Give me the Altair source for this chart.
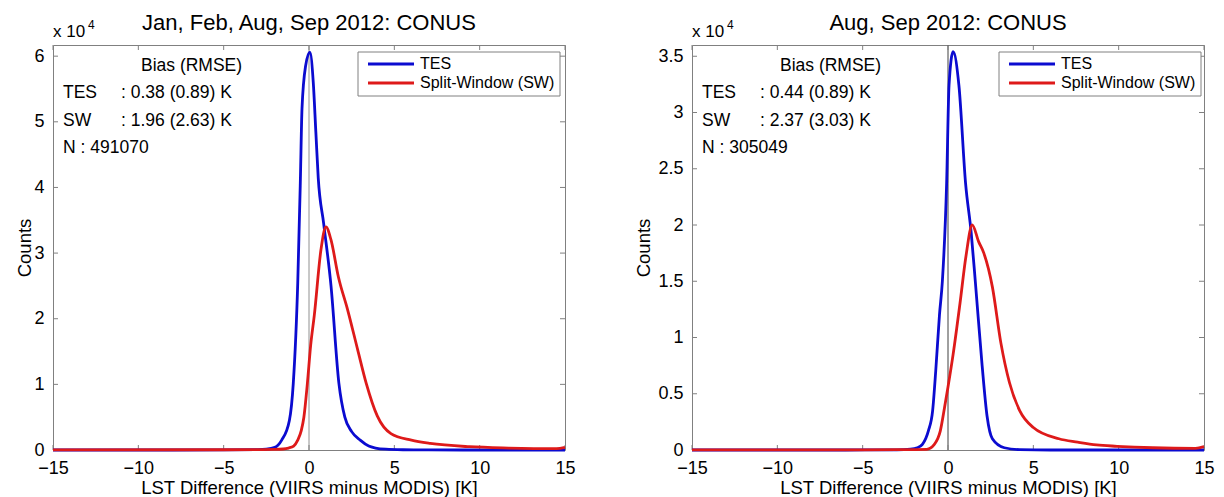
import altair as alt
import pandas as pd

# ---------------- data (counts in units of 10^4) ----------------
X_TICKS = [-15, -10, -5, 0, 5, 10, 15]
L_Y_TICKS = [0, 1, 2, 3, 4, 5, 6]
R_Y_TICKS = [0, 0.5, 1, 1.5, 2, 2.5, 3, 3.5]
SERIES = ["TES", "Split-Window (SW)"]
COLORS = ["#0b0bd0", "#de1a1a"]

TITLES = ["Jan, Feb, Aug, Sep 2012: CONUS", "Aug, Sep 2012: CONUS"]
X_TITLE = "LST Difference (VIIRS minus MODIS) [K]"
Y_TITLE = "Counts"
STAT_HEAD = "Bias (RMSE)"
L_STATS = [": 0.38 (0.89) K", ": 1.96 (2.63) K", "N : 491070"]
R_STATS = [": 0.44 (0.89) K", ": 2.37 (3.03) K", "N : 305049"]
STAT_NAMES = ["TES", "SW"]

# Left panel
L_TES_X = [-15, -8, -5, -3, -2.5, -2, -1.6, -1.15, -0.92, -0.66, -0.51, -0.41, -0.2,
           0.05, 0.25, 0.4, 0.54, 0.86, 1.29, 1.75, 2.1, 2.5, 3.0, 3.5, 3.9, 4.5, 5.5, 7, 9, 15]
L_TES_Y = [0, 0, 0.001, 0.005, 0.012, 0.04, 0.15, 0.45, 1.02, 2.54, 4.06, 5.2, 5.85,
           6.06, 5.6, 4.85, 4.15, 3.45, 2.5, 1.02, 0.5, 0.28, 0.15, 0.06, 0.03, 0.012, 0.004, 0.001, 0, 0]
L_SW_X = [-15, -5, -3, -2, -1.5, -1.2, -0.9, -0.66, -0.45, -0.3, -0.1, 0.1, 0.31, 0.7, 0.99,
          1.29, 1.72, 2.26, 2.85, 3.35, 4.0, 4.8, 6.0, 7.1, 9.4, 11.7, 14.5, 15]
L_SW_Y = [0.003, 0.004, 0.006, 0.008, 0.015, 0.03, 0.06, 0.15, 0.3, 0.5, 1.0, 1.6, 2.05, 3.05, 3.40,
          3.2, 2.64, 2.14, 1.53, 1.02, 0.52, 0.25, 0.15, 0.1, 0.05, 0.03, 0.02, 0.04]

# Right panel
R_TES_X = [-15, -6, -3, -2.2, -1.8, -1.5, -1.15, -0.9, -0.72, -0.5, -0.33, -0.08, 0.06,
           0.3, 0.64, 1.03, 1.36, 1.61, 2.0, 2.29, 2.6, 3.3, 4.2, 6, 15]
R_TES_Y = [0, 0, 0.002, 0.008, 0.02, 0.05, 0.17, 0.35, 0.7, 1.2, 1.5, 2.37, 3.24,
           3.54, 3.24, 2.37, 1.93, 1.48, 0.75, 0.3, 0.1, 0.02, 0.003, 0, 0]
R_SW_X = [-15, -5, -3, -1.25, -0.8, -0.45, -0.2, 0.0, 0.3, 0.7, 1.05, 1.42, 1.8, 2.1,
          2.6, 3.1, 3.6, 4.2, 5.0, 6.5, 7.6, 8.7, 9.9, 12, 14.5, 15]
R_SW_Y = [0.002, 0.002, 0.003, 0.006, 0.05, 0.17, 0.38, 0.56, 0.85, 1.3, 1.72, 2.0, 1.85, 1.75,
          1.45, 0.95, 0.6, 0.35, 0.2, 0.1, 0.07, 0.045, 0.033, 0.02, 0.015, 0.03]

# ---------------- style ----------------
W, H = 512, 405
FONT = "Liberation Sans"
FRAME = "#808080"


def panel(title, tes_x, tes_y, sw_x, sw_y, y_ticks, ymax, stats, zero_color,
          legend_left, y_title_x):
    xs = alt.Scale(domain=[-15, 15], nice=False, zero=False)
    ys = alt.Scale(domain=[0, ymax], nice=False, zero=True)
    x_axis = alt.Axis(values=X_TICKS, ticks=False, domain=False, grid=False,
                      labelPadding=9, title=X_TITLE, titlePadding=1,
                      labelOverlap=False, labelFlush=False,
                      labelFont=FONT, labelFontSize=18, labelColor="black",
                      titleFont=FONT, titleFontSize=18.5, titleColor="black",
                      titleFontWeight="normal")
    y_axis = alt.Axis(values=y_ticks, format="~g", ticks=False, domain=False, grid=False,
                      labelPadding=9, title=Y_TITLE, titleX=y_title_x, titleY=H / 2,
                      titleBaseline="middle", titleAlign="center", labelOverlap=False,
                      labelFont=FONT, labelFontSize=18, labelColor="black",
                      titleFont=FONT, titleFontSize=18.5, titleColor="black",
                      titleFontWeight="normal")
    X = lambda: alt.X("x:Q", scale=xs, axis=x_axis)
    Y = lambda: alt.Y("y:Q", scale=ys, axis=y_axis)

    tes = pd.DataFrame({"x": tes_x, "y": tes_y, "s": SERIES[0]})
    sw = pd.DataFrame({"x": sw_x, "y": sw_y, "s": SERIES[1]})
    xt = pd.DataFrame({"x": X_TICKS})
    yt = pd.DataFrame({"y": y_ticks})
    one = pd.DataFrame({"a": [0]})

    layers = []
    # zero line
    layers.append(alt.Chart(pd.DataFrame({"x": [0]})).mark_rule(color=zero_color, strokeWidth=1)
                  .encode(x=X()))
    # inward ticks
    layers.append(alt.Chart(xt).mark_rule(color=FRAME, strokeWidth=1)
                  .encode(x=X(), y=alt.value(H), y2=alt.value(H - 5)))
    layers.append(alt.Chart(xt).mark_rule(color=FRAME, strokeWidth=1)
                  .encode(x=X(), y=alt.value(0), y2=alt.value(5)))
    layers.append(alt.Chart(yt).mark_rule(color=FRAME, strokeWidth=1)
                  .encode(y=Y(), x=alt.value(0), x2=alt.value(5)))
    layers.append(alt.Chart(yt).mark_rule(color=FRAME, strokeWidth=1)
                  .encode(y=Y(), x=alt.value(W - 5), x2=alt.value(W)))
    # curves
    layers.append(alt.Chart(tes).mark_line(color=COLORS[0], strokeWidth=2.8, interpolate="monotone")
                  .encode(x=X(), y=Y()))
    layers.append(alt.Chart(sw).mark_line(color=COLORS[1], strokeWidth=2.8, interpolate="monotone")
                  .encode(x=X(), y=Y()))

    def txt(t, x, y, size=17.5, align="left", baseline="middle"):
        return (alt.Chart(pd.DataFrame({"t": [t]}))
                .mark_text(font=FONT, fontSize=size, align=align, baseline=baseline, color="black")
                .encode(text="t:N", x=alt.value(x), y=alt.value(y)))

    # stats text
    layers.append(txt(STAT_HEAD, 88, 21))
    layers.append(txt(STAT_NAMES[0], 10, 48))
    layers.append(txt(stats[0], 68, 48))
    layers.append(txt(STAT_NAMES[1], 10, 76))
    layers.append(txt(stats[1], 68, 76))
    layers.append(txt(stats[2], 10, 103))

    # title and exponent label
    layers.append(txt(title, W / 2, -15, size=22, align="center", baseline="alphabetic"))
    layers.append(txt("x 10", 0, -8, size=17, baseline="alphabetic"))
    layers.append(txt("4", 35, -16, size=12, baseline="alphabetic"))

    # legend box
    lx0 = legend_left
    layers.append(alt.Chart(one).mark_rect(fill="white", stroke=FRAME, strokeWidth=1)
                  .encode(x=alt.value(lx0), x2=alt.value(lx0 + 202), y=alt.value(7), y2=alt.value(51)))
    for i, (name, col) in enumerate(zip(SERIES, COLORS)):
        yy = 19 + i * 19
        layers.append(alt.Chart(one).mark_rule(color=col, strokeWidth=3)
                      .encode(x=alt.value(lx0 + 10), x2=alt.value(lx0 + 56), y=alt.value(yy)))
        layers.append(txt(name, lx0 + 62, yy, size=16))

    return alt.layer(*layers).properties(width=W, height=H)


left = panel(TITLES[0], L_TES_X, L_TES_Y, L_SW_X, L_SW_Y, L_Y_TICKS, 6.17, L_STATS,
             "#909090", 305, -29)
right = panel(TITLES[1], R_TES_X, R_TES_Y, R_SW_X, R_SW_Y, R_Y_TICKS, 3.6, R_STATS,
              "#404040", 307, -49)

chart = (alt.hconcat(left, right, spacing=127, bounds="flush")
         .properties(padding={"left": 6, "top": 3, "right": 0, "bottom": 0})
         .configure_view(stroke=FRAME, strokeWidth=1))

chart.save("out.html", embed_options={"renderer": "svg", "actions": False})
